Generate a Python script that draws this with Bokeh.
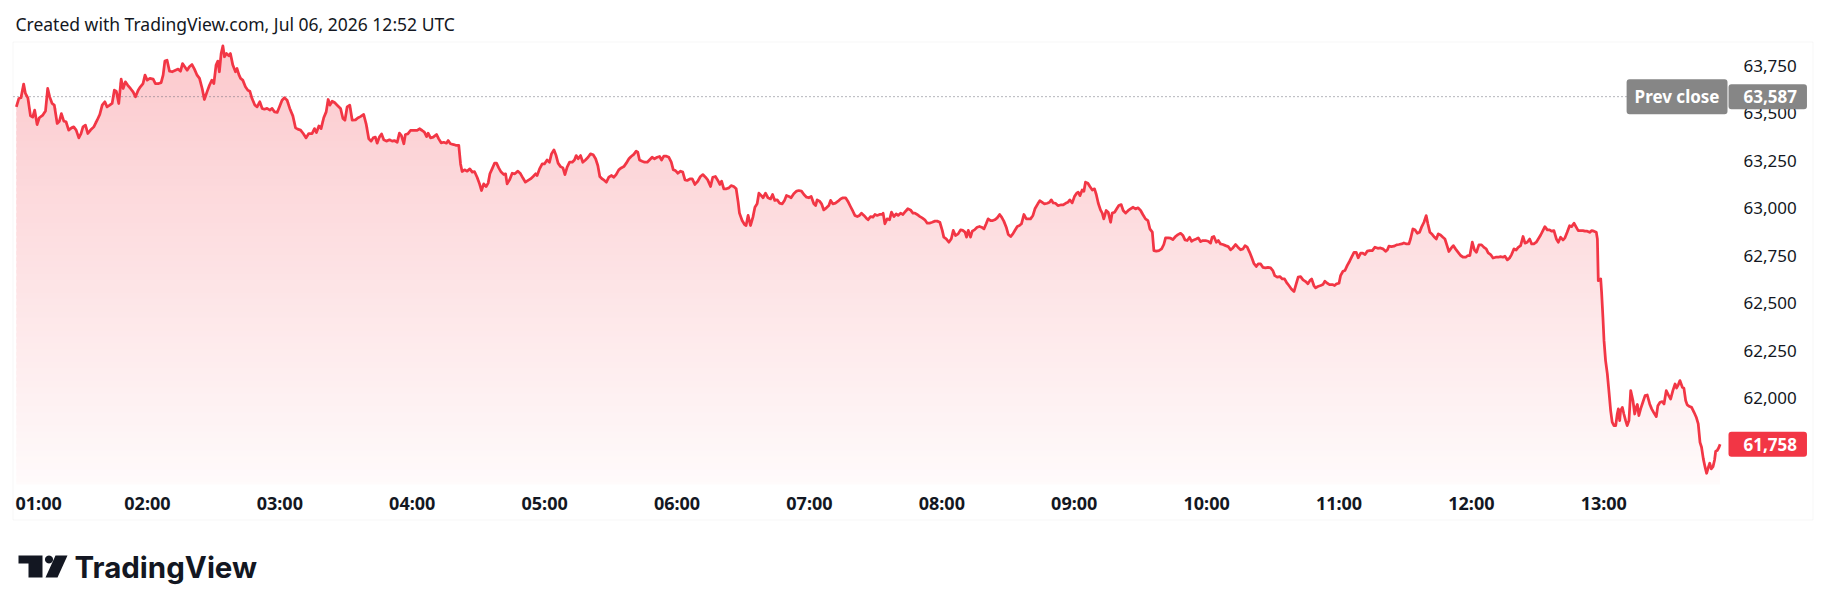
import numpy as np
from bokeh.plotting import figure
from bokeh.models import Range1d, Label, BoxAnnotation, PolyAnnotation
from bokeh.core.properties import value
from bokeh.embed import file_html
from bokeh.resources import INLINE

# ---------------- data (minutes since 00:00 local, price) ----------------
title_text = "Created with TradingView.com, Jul 06, 2026 12:52 UTC"
prev_close = 63587
last_price = 61758
price_ticks = [62000, 62250, 62500, 62750, 63000, 63250, 63500, 63750]
hour_ticks = [60, 120, 180, 240, 300, 360, 420, 480, 540, 600, 660, 720, 780]
hour_labels = ["01:00", "02:00", "03:00", "04:00", "05:00", "06:00", "07:00",
               "08:00", "09:00", "10:00", "11:00", "12:00", "13:00"]

t_a = [60.6, 61.7, 62.7, 63.9, 64.7, 65.8, 67.0, 68.0, 68.9, 70.0,
       71.0, 72.6, 73.8, 74.8, 75.7, 76.8, 77.8, 79.1, 80.1, 81.0,
       82.1, 83.1, 84.3, 85.6, 86.6, 87.7, 88.9, 89.9, 90.8, 91.9,
       93.0, 94.2, 95.7, 97.2, 98.4, 99.5, 100.7, 101.7, 102.9, 104.0,
       105.0, 105.9, 107.0, 108.1, 109.0, 110.0, 111.1, 112.3, 113.5, 114.6,
       115.8, 116.8, 118.0, 118.9, 119.9, 121.1, 122.6, 123.6, 125.1, 126.2,
       127.1, 127.9, 128.9, 130.0, 131.2, 132.7, 133.9, 135.0, 135.9, 136.9,
       138.0, 139.0, 140.2, 141.3, 142.5, 143.6, 144.8, 145.8, 147.0, 148.1,
       149.2, 150.1, 151.1, 151.9, 152.6, 153.4, 154.2, 154.9, 155.8, 156.9,
       157.6, 158.7, 159.9, 160.6, 161.4, 162.2, 163.2, 164.4, 165.5, 166.4,
       167.4, 168.7, 169.7, 170.9, 172.0, 173.0, 174.2, 175.5, 176.5, 177.6,
       178.8, 179.8, 181.0, 182.1, 183.3, 184.5, 185.9, 187.1, 188.1, 189.4,
       190.6, 191.9, 193.1, 194.6, 195.7, 196.6, 197.7, 198.7, 199.9, 201.0,
       201.9, 202.7, 203.7, 204.8, 206.0, 207.5, 208.6, 209.5, 210.5, 211.7,
       212.8]
p_a = [63533, 63577, 63581, 63653, 63604, 63581, 63486, 63479, 63516, 63440,
       63476, 63490, 63511, 63630, 63586, 63551, 63542, 63446, 63458, 63498,
       63458, 63455, 63411, 63423, 63428, 63411, 63370, 63393, 63428, 63437,
       63393, 63411, 63428, 63463, 63493, 63542, 63560, 63533, 63542, 63551,
       63621, 63616, 63551, 63679, 63630, 63665, 63647, 63630, 63612, 63586,
       63621, 63639, 63656, 63700, 63674, 63683, 63679, 63656, 63656, 63661,
       63700, 63774, 63779, 63721, 63718, 63726, 63732, 63721, 63761, 63744,
       63726, 63744, 63756, 63732, 63700, 63683, 63630, 63572, 63612, 63647,
       63674, 63656, 63753, 63774, 63718, 63814, 63854, 63797, 63814, 63802,
       63814, 63753, 63718, 63735, 63704, 63683, 63674, 63639, 63621, 63616,
       63577, 63542, 63533, 63560, 63525, 63521, 63525, 63516, 63525, 63507,
       63504, 63533, 63568, 63581, 63568, 63525, 63486, 63423, 63416, 63411,
       63393, 63370, 63393, 63393, 63419, 63398, 63433, 63419, 63476, 63507,
       63572, 63542, 63563, 63556, 63542, 63525, 63472, 63463, 63533, 63542,
       63463]

t_b = [214.3, 215.3, 216.5, 218.0, 219.1, 220.3, 221.4, 222.3, 223.3, 224.1,
       225.1, 226.1, 227.1, 228.3, 229.7, 230.9, 231.9, 233.2, 234.2, 235.1,
       236.2, 236.9, 238.0, 239.2, 240.7, 242.2, 243.3, 244.5, 245.5, 246.5,
       247.2, 248.3, 249.5, 251.0, 252.0, 253.1, 254.3, 255.5, 256.3, 257.3,
       258.8, 260.0, 261.1, 261.9, 262.6, 263.7, 264.9, 266.1, 267.2, 268.2,
       269.4, 270.5, 271.4, 272.4, 273.5, 274.4, 275.2, 276.2, 277.3, 278.2,
       279.2, 280.3, 281.5, 282.3, 283.0, 284.1, 285.3, 286.5, 287.9, 289.1,
       290.1, 291.3, 292.5, 293.6, 294.8, 295.9, 296.6, 297.7, 298.9, 299.9,
       301.1, 302.2, 303.1, 304.2, 305.2, 306.1, 307.2, 308.3, 309.2, 310.2,
       311.3, 312.5, 313.5, 314.3, 315.2, 316.3, 317.3, 318.5, 319.7, 320.8,
       322.0, 323.1, 324.1, 325.0, 326.1, 327.1, 328.0, 329.1, 330.2, 331.4,
       332.4, 333.6, 334.7, 335.9, 337.0, 338.2, 339.2, 340.4, 341.5, 342.2,
       343.0, 344.2, 345.3, 346.5, 347.5, 348.7, 349.8, 351.0, 352.1, 353.0,
       354.0, 355.2, 356.3, 357.4, 358.3, 359.3, 360.4, 361.6, 362.6, 363.6,
       364.6, 365.8, 366.9, 368.1]
p_b = [63465, 63475, 63482, 63493, 63444, 63365, 63353, 63370, 63374, 63342,
       63374, 63391, 63360, 63353, 63360, 63353, 63356, 63347, 63395, 63382,
       63339, 63388, 63391, 63409, 63409, 63409, 63418, 63409, 63400, 63377,
       63395, 63370, 63374, 63388, 63365, 63344, 63347, 63342, 63356, 63339,
       63335, 63330, 63330, 63233, 63193, 63202, 63195, 63207, 63190, 63193,
       63163, 63128, 63093, 63128, 63114, 63132, 63181, 63207, 63237, 63237,
       63212, 63190, 63177, 63181, 63128, 63149, 63184, 63181, 63195, 63181,
       63160, 63137, 63146, 63154, 63167, 63181, 63172, 63207, 63233, 63233,
       63254, 63242, 63286, 63307, 63277, 63237, 63219, 63212, 63177, 63216,
       63242, 63242, 63254, 63277, 63260, 63277, 63242, 63254, 63268, 63286,
       63281, 63260, 63225, 63167, 63154, 63146, 63137, 63163, 63172, 63163,
       63177, 63202, 63212, 63219, 63237, 63260, 63272, 63283, 63300, 63295,
       63254, 63247, 63242, 63242, 63254, 63268, 63260, 63268, 63272, 63254,
       63274, 63274, 63268, 63242, 63202, 63198, 63184, 63195, 63190, 63149,
       63146, 63154, 63154, 63125]

t_c = [369.4, 370.6, 371.7, 372.9, 373.9, 375.2, 376.2, 377.4, 378.5, 379.4,
       380.2, 381.2, 382.4, 383.5, 384.5, 385.7, 386.8, 387.7, 388.3, 389.5,
       390.6, 391.3, 392.2, 393.3, 394.4, 395.3, 396.3, 397.1, 398.1, 399.0,
       400.1, 401.2, 402.4, 403.3, 404.3, 405.4, 406.4, 407.7, 408.7, 409.6,
       410.7, 411.7, 412.9, 414.2, 415.2, 416.4, 417.5, 418.7, 419.7, 420.8,
       422.0, 422.8, 423.5, 424.6, 425.5, 426.5, 427.7, 428.8, 429.6, 430.6,
       431.8, 433.0, 434.1, 435.2, 436.4, 437.4, 438.6, 439.7, 440.6, 441.7,
       442.7, 443.6, 444.7, 445.7, 446.6, 447.7, 448.8, 449.7, 450.7, 451.8,
       453.0, 453.4, 454.2, 455.2, 456.3, 457.2, 458.3, 459.3, 460.2, 461.3,
       462.4, 463.6, 464.6, 465.8, 466.9, 467.8, 468.8, 470.1, 471.1, 472.3,
       473.4, 474.4, 475.6, 476.9, 477.9, 479.1, 480.2, 480.9, 482.0, 483.2,
       484.3, 485.2, 486.2, 487.4, 488.5, 489.5, 490.5, 491.2, 492.0, 493.0,
       493.8, 494.8, 496.0, 497.1, 498.0, 499.1, 500.1, 501.0, 502.1, 503.1,
       504.0, 505.1, 506.2, 507.1, 508.1, 509.2, 510.1, 511.2, 512.2, 513.1,
       514.2, 515.2, 516.1, 517.2, 518.3, 519.2, 520.2, 521.3, 522.2]
p_c = [63142, 63167, 63177, 63163, 63149, 63114, 63163, 63167, 63146, 63125,
       63142, 63102, 63102, 63107, 63119, 63114, 63102, 63032, 62974, 62935,
       62914, 62909, 62962, 62909, 62953, 63005, 63023, 63079, 63067, 63055,
       63079, 63055, 63049, 63072, 63041, 63044, 63027, 63023, 63041, 63067,
       63062, 63055, 63076, 63090, 63093, 63090, 63072, 63058, 63055, 63062,
       63023, 63014, 63044, 63037, 63023, 62991, 63002, 63014, 63041, 63023,
       63027, 63037, 63049, 63055, 63055, 63037, 63009, 62984, 62962, 62956,
       62962, 62974, 62962, 62949, 62939, 62956, 62953, 62967, 62962, 62967,
       62967, 62974, 62918, 62944, 62939, 62979, 62956, 62970, 62962, 62974,
       62967, 62984, 62997, 62991, 62974, 62974, 62967, 62956, 62949, 62939,
       62921, 62921, 62926, 62932, 62932, 62926, 62883, 62848, 62839, 62821,
       62839, 62883, 62856, 62865, 62886, 62883, 62874, 62848, 62883, 62848,
       62879, 62886, 62900, 62904, 62900, 62891, 62918, 62944, 62935, 62935,
       62939, 62949, 62967, 62953, 62932, 62900, 62862, 62851, 62865, 62883,
       62904, 62909, 62918, 62967, 62944, 62944, 62944, 62962, 62997]

t_d = [523.5, 524.4, 525.5, 526.5, 527.8, 528.8, 529.6, 530.5, 531.5, 532.6,
       533.8, 535.0, 536.1, 537.1, 538.0, 539.1, 540.1, 541.1, 541.8, 542.6,
       543.6, 544.4, 545.1, 546.2, 547.1, 548.2, 549.2, 550.0, 550.9, 551.9,
       552.7, 553.4, 554.5, 555.4, 556.5, 557.2, 558.3, 559.2, 560.2, 561.3,
       562.2, 563.3, 564.5, 565.5, 566.7, 567.8, 568.9, 570.1, 571.1, 572.3,
       573.4, 574.3, 575.4, 576.1, 577.2, 578.4, 579.6, 580.6, 581.4, 582.6,
       583.7, 584.7, 585.9, 587.0, 588.2, 589.3, 590.2, 591.2, 592.3, 593.2,
       594.2, 595.3, 596.2, 597.3, 598.3, 599.5, 600.7, 601.8, 602.5, 603.3,
       604.4, 605.3, 606.3, 607.4, 608.6, 609.8, 610.9, 611.9, 613.1, 614.2,
       615.4, 616.5, 617.4, 618.4, 619.5, 620.4, 621.4, 622.5, 623.4, 624.5,
       625.5, 626.7, 627.8, 629.0, 630.0, 630.9, 632.0, 633.2, 634.3, 635.3,
       636.2, 637.3, 638.4, 639.6, 640.6, 641.5, 642.6, 643.7, 644.9, 645.9,
       646.8, 647.6, 648.6, 649.4, 650.4, 651.7, 652.7, 653.6, 654.7, 655.7,
       657.0, 658.0, 658.9, 660.0, 660.7, 661.8, 662.7, 663.7, 664.8, 665.7,
       666.8, 667.8, 668.7, 669.8, 670.8, 671.8, 672.8, 673.9, 675.1, 676.3]
p_d = [63023, 63040, 63031, 63023, 63026, 63031, 63044, 63028, 63026, 63014,
       63017, 63017, 63026, 63031, 63044, 63028, 63061, 63079, 63084, 63066,
       63096, 63089, 63137, 63131, 63114, 63096, 63102, 63072, 63026, 62991,
       62974, 62944, 62988, 62979, 62926, 62974, 62979, 62996, 63014, 63019,
       62988, 62974, 62988, 62996, 63005, 62996, 63002, 62988, 62967, 62944,
       62935, 62891, 62874, 62777, 62774, 62777, 62786, 62809, 62844, 62844,
       62842, 62835, 62851, 62861, 62868, 62856, 62833, 62830, 62847, 62826,
       62833, 62838, 62844, 62824, 62830, 62830, 62826, 62816, 62847, 62851,
       62821, 62830, 62812, 62809, 62803, 62798, 62781, 62791, 62809, 62795,
       62781, 62786, 62803, 62795, 62768, 62742, 62710, 62693, 62707, 62707,
       62689, 62686, 62689, 62686, 62672, 62645, 62637, 62640, 62628, 62628,
       62610, 62593, 62575, 62561, 62602, 62637, 62640, 62623, 62614, 62602,
       62619, 62628, 62593, 62581, 62588, 62593, 62598, 62616, 62605, 62598,
       62598, 62593, 62602, 62605, 62645, 62668, 62672, 62698, 62721, 62742,
       62768, 62768, 62739, 62763, 62763, 62756, 62774, 62777, 62777, 62795]

t_e = [677.6, 678.8, 679.9, 681.1, 681.9, 682.6, 683.7, 684.9, 686.1, 687.1,
       688.4, 689.4, 690.6, 691.7, 692.4, 693.5, 694.4, 695.5, 696.5, 697.4,
       698.5, 699.5, 700.3, 701.2, 702.3, 703.3, 704.1, 705.0, 706.0, 707.1,
       708.0, 709.1, 709.8, 710.9, 711.8, 712.8, 714.0, 715.1, 716.3, 717.4,
       718.4, 719.3, 720.4, 721.4, 722.3, 723.4, 724.6, 725.7, 726.7, 727.6,
       728.7, 729.8, 731.0, 732.2, 733.2, 734.3, 735.2, 736.3, 737.3, 738.2,
       739.3, 740.3, 741.2, 742.3, 743.4, 744.3, 745.3, 746.4, 747.3, 748.3,
       749.4, 750.3, 751.4, 752.4, 753.3, 754.4, 755.4, 756.3, 757.4, 758.5,
       759.4, 760.4, 761.5, 762.4, 763.4, 764.5, 765.4, 766.5, 767.5, 768.4,
       769.5, 770.5, 771.5, 772.5, 773.6, 774.5, 775.5, 776.6, 777.1, 777.5,
       778.6, 779.0, 779.6, 780.1, 780.8, 781.6, 782.3, 783.1, 783.8, 784.6,
       785.4, 786.1, 786.6, 787.2, 787.6, 788.4, 789.1, 789.9, 790.6, 791.4,
       792.2, 793.2, 794.0, 794.7, 795.2, 795.9, 796.7, 797.7, 798.7, 799.7,
       800.8, 801.7, 802.7, 803.8, 804.5, 805.5, 806.5, 807.3, 808.3, 809.2,
       810.3, 811.3, 812.3, 813.0, 813.8, 814.5, 815.6, 816.3, 817.1, 817.8,
       818.9, 819.8, 820.9, 821.9, 822.8, 823.6, 824.3, 825.1, 825.9, 826.6,
       827.4, 828.0, 828.7, 829.5, 830.2, 830.7, 831.4, 832.2, 832.7]
p_e = [62789, 62791, 62786, 62773, 62780, 62800, 62798, 62800, 62807, 62809,
       62812, 62817, 62812, 62812, 62838, 62891, 62887, 62868, 62873, 62900,
       62926, 62961, 62917, 62873, 62861, 62847, 62838, 62865, 62859, 62847,
       62838, 62798, 62772, 62791, 62803, 62786, 62768, 62751, 62742, 62742,
       62751, 62751, 62821, 62780, 62768, 62807, 62807, 62794, 62786, 62765,
       62756, 62738, 62742, 62742, 62745, 62742, 62747, 62728, 62738, 62756,
       62786, 62780, 62794, 62803, 62851, 62816, 62821, 62838, 62812, 62812,
       62821, 62838, 62859, 62882, 62903, 62886, 62886, 62879, 62882, 62838,
       62821, 62847, 62833, 62844, 62873, 62908, 62903, 62921, 62900, 62882,
       62882, 62882, 62879, 62879, 62873, 62882, 62879, 62873, 62838, 62619,
       62628, 62558, 62426, 62303, 62198, 62128, 62040, 61935, 61874, 61856,
       61856, 61917, 61944, 61882, 61935, 61952, 61917, 61882, 61856, 61882,
       62040, 61988, 61917, 61952, 61967, 61909, 61944, 61979, 62014, 62017,
       61970, 61944, 61923, 61903, 61961, 61979, 61982, 61970, 62040, 62019,
       61996, 62040, 62075, 62054, 62072, 62093, 62058, 62053, 61988, 61965,
       61956, 61952, 61926, 61900, 61865, 61768, 61742, 61681, 61637, 61605,
       61637, 61658, 61628, 61640, 61675, 61721, 61725, 61742, 61758]

segs_t = [t_a, t_b, t_c, t_d, t_e]
segs_p = [p_a, p_b, p_c, p_d, p_e]
minutes, prices = [], []
for st, sp in zip(segs_t, segs_p):
    n = min(len(st), len(sp))
    minutes += st[:n]
    prices += sp[:n]
tt = np.array(minutes, dtype=float)
pp = np.array(prices, dtype=float)

# ---------------- layout ----------------
W, H = 1830, 611
FL, FR, FT, FB = 13, 1724, 42, 484          # price pane edges in page pixels
X0, X1 = 59.3, 834.7                        # minutes shown across the pane
Y0, Y1 = 61546.0, 63872.0                   # prices shown across the pane

def dx(px):
    return X0 + (px - FL) * (X1 - X0) / (FR - FL)

def dy(py):
    return Y0 + (FB - py) * (Y1 - Y0) / (FB - FT)

TEXT = "#131722"
RED = (242, 54, 69)
FONT = "Noto Sans"

p = figure(width=W, height=H, x_range=Range1d(dx(0), dx(W)), y_range=Range1d(dy(H), dy(0)),
           output_backend="svg", toolbar_location=None, title=None,
           x_axis_type=None, y_axis_type=None, min_border=0)
p.background_fill_color = "white"
p.border_fill_color = "white"
p.outline_line_color = None
p.grid.visible = False

# outer frame of the chart
p.add_layout(BoxAnnotation(left=dx(12.5), right=dx(1812.5), top=dy(41.5), bottom=dy(519.5),
                           fill_alpha=0, line_color="#e6e6e6", line_width=1, level="underlay"))

# gradient area (stacked horizontal bands, pane bottom = Y0)
N = 70
edges = np.linspace(Y0, Y1, N + 1)
for i in range(N):
    lo, hi = edges[i], edges[i + 1]
    base = lo if i == 0 else lo - (hi - lo) * 0.6
    y2 = np.clip(pp, base, hi)
    if np.all(y2 <= base):
        continue
    frac = ((lo + hi) / 2 - Y0) / (Y1 - Y0)
    a = 0.02 + (0.27 - 0.02) * frac
    col = "#%02x%02x%02x" % tuple(int(round(255 * (1 - a) + c * a)) for c in RED)
    p.varea(x=tt, y1=np.full_like(pp, base), y2=y2, fill_color=col, fill_alpha=1.0)

# previous close dotted line across the pane
p.line(x=[X0, X1], y=[prev_close, prev_close], line_color="#6a6d78",
       line_width=1, line_dash="1 3")

p.line(tt, pp, line_color="#F23645", line_width=2.75, line_join="round")

# time scale labels
p.text(x=hour_ticks[1:], y=[dy(502)] * (len(hour_ticks) - 1), text=hour_labels[1:],
       text_align="center", text_baseline="middle", text_font=value(FONT),
       text_font_size="18px", text_font_style="bold", text_color=TEXT)
p.text(x=[dx(15)], y=[dy(502)], text=[hour_labels[0]],
       text_align="left", text_baseline="middle", text_font=value(FONT),
       text_font_size="18px", text_font_style="bold", text_color=TEXT)

# price scale labels
p.text(x=[dx(1743)] * len(price_ticks), y=price_ticks,
       text=["{:,}".format(v) for v in price_ticks],
       text_align="left", text_baseline="middle", text_font=value(FONT),
       text_font_size="17px", text_color=TEXT)

# title
p.add_layout(Label(x=dx(15), y=dy(23), text=title_text, text_align="left",
                   text_baseline="middle", text_font=FONT, text_font_size="17.5px",
                   text_color=TEXT))

# price-scale badges
p.add_layout(Label(x=dx(1727), y=prev_close, text="Prev close", text_align="right",
                   text_baseline="middle", text_font=FONT, text_font_size="17px",
                   text_font_style="bold",
                   text_color="white", background_fill_color="#868686",
                   padding=dict(left=8, right=8, top=6, bottom=6), border_radius=3))
p.add_layout(Label(x=dx(1728), y=prev_close, text="{:,}".format(prev_close), text_align="left",
                   text_baseline="middle", text_font=FONT, text_font_size="17px",
                   text_font_style="bold",
                   text_color="white", background_fill_color="#868686",
                   padding=dict(left=15, right=10, top=6, bottom=6), border_radius=3))
p.add_layout(Label(x=dx(1728), y=last_price, text="{:,}".format(last_price), text_align="left",
                   text_baseline="middle", text_font=FONT, text_font_size="17px",
                   text_font_style="bold",
                   text_color="white", background_fill_color="#F23645",
                   padding=dict(left=15, right=10, top=6, bottom=6), border_radius=3))

# TradingView logo
p.add_layout(PolyAnnotation(xs=[dx(v) for v in [18, 42, 42, 28, 28, 18]],
                            ys=[dy(v) for v in [555, 555, 577, 577, 563, 563]],
                            fill_color="#131722", fill_alpha=1, line_alpha=0))
ang = np.linspace(0, 2 * np.pi, 24, endpoint=False)
p.add_layout(PolyAnnotation(xs=[dx(48.5 + 4 * np.cos(a)) for a in ang],
                            ys=[dy(559 + 4 * np.sin(a)) for a in ang],
                            fill_color="#131722", fill_alpha=1, line_alpha=0))
p.add_layout(PolyAnnotation(xs=[dx(v) for v in [55, 67, 57, 45]],
                            ys=[dy(v) for v in [555, 555, 577, 577]],
                            fill_color="#131722", fill_alpha=1, line_alpha=0))
p.add_layout(Label(x=dx(74), y=dy(566), text="TradingView", text_align="left",
                   text_baseline="middle", text_font="Inter", text_font_size="29.5px",
                   text_font_style="bold", text_color="#131722"))

open("out.html", "w").write(file_html(p, INLINE))
